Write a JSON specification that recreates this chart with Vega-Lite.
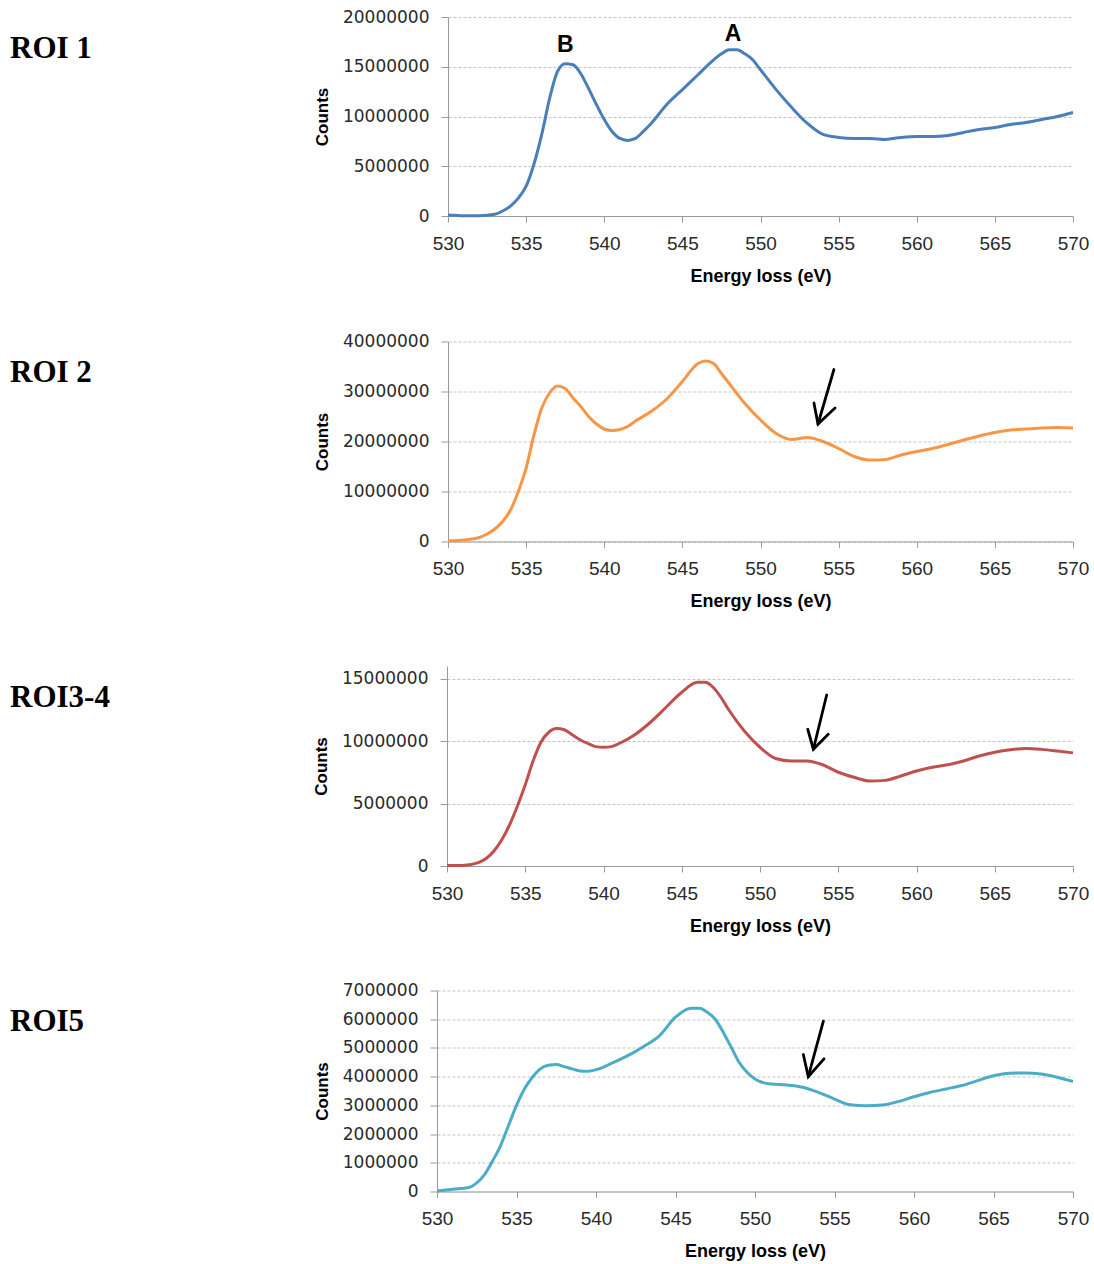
{
  "$schema": "https://vega.github.io/schema/vega-lite/v6.json",
  "background": "white",
  "padding": {"left": 10, "top": 8, "right": 4, "bottom": 4},
  "columns": 1,
  "bounds": "flush",
  "spacing": {"row": 324.5},
  "concat": [
    {
      "bounds": "flush",
      "spacing": 0,
      "hconcat": [
        {"width": 11, "height": 199, "data": {"values": []}, "mark": "point"},
        {
          "width": 625,
          "height": 199,
          "title": {"text": "ROI 1", "dx": -438, "dy": 60.5},
          "layer": [
            {
              "data": {"name": "roi1"},
              "mark": {"type": "line", "color": "#4a7ebb", "strokeWidth": 3, "interpolate": "monotone"},
              "encoding": {
                "x": {"field": "E", "type": "quantitative", "title": "Energy loss (eV)",
                      "scale": {"domain": [530, 570], "nice": false, "zero": false},
                      "axis": {"values": [530, 535, 540, 545, 550, 555, 560, 565, 570], "tickCount": 12, "format": "d", "labelOverlap": false}},
                "y": {"field": "C", "type": "quantitative", "title": "Counts",
                      "scale": {"domain": [0, 20000000], "nice": false},
                      "axis": {"values": [0, 5000000, 10000000, 15000000, 20000000], "tickCount": 10, "format": "d", "labelOverlap": false}}
              }
            },
            {
              "data": {"name": "peaks"},
              "mark": {"type": "text", "font": "Liberation Sans", "fontWeight": "bold", "fontSize": 23, "color": "#000000"},
              "encoding": {
                "x": {"field": "E", "type": "quantitative", "title": "Energy loss (eV)"},
                "y": {"field": "C", "type": "quantitative", "title": "Counts"},
                "text": {"field": "label"}
              }
            }
          ]
        }
      ]
    },
    {
      "bounds": "flush",
      "spacing": 0,
      "hconcat": [
        {"width": 11, "height": 200, "data": {"values": []}, "mark": "point"},
        {
          "width": 625,
          "height": 200,
          "title": {"text": "ROI 2", "dx": -438, "dy": 60.5},
          "layer": [
            {
              "data": {"name": "roi2"},
              "mark": {"type": "line", "color": "#f79646", "strokeWidth": 3, "interpolate": "monotone"},
              "encoding": {
                "x": {"field": "E", "type": "quantitative", "title": "Energy loss (eV)",
                      "scale": {"domain": [530, 570], "nice": false, "zero": false},
                      "axis": {"values": [530, 535, 540, 545, 550, 555, 560, 565, 570], "tickCount": 12, "format": "d", "labelOverlap": false}},
                "y": {"field": "C", "type": "quantitative", "title": "Counts",
                      "scale": {"domain": [0, 40000000], "nice": false},
                      "axis": {"values": [0, 10000000, 20000000, 30000000, 40000000], "tickCount": 10, "format": "d", "labelOverlap": false}}
              }
            },
            {
              "data": {"name": "arrow2"},
              "mark": {"type": "line", "color": "#000000", "strokeWidth": 2.8, "strokeCap": "round"},
              "encoding": {
                "x": {"field": "E", "type": "quantitative", "title": "Energy loss (eV)"},
                "y": {"field": "C", "type": "quantitative", "title": "Counts"},
                "detail": {"field": "seg"},
                "order": {"field": "o"}
              }
            }
          ]
        }
      ]
    },
    {
      "bounds": "flush",
      "spacing": 0,
      "hconcat": [
        {"width": 10, "height": 200, "data": {"values": []}, "mark": "point"},
        {
          "width": 626,
          "height": 200,
          "title": {"text": "ROI3-4", "dx": -437, "dy": 52},
          "layer": [
            {
              "data": {"name": "roi34"},
              "mark": {"type": "line", "color": "#c0504d", "strokeWidth": 3, "interpolate": "monotone"},
              "encoding": {
                "x": {"field": "E", "type": "quantitative", "title": "Energy loss (eV)",
                      "scale": {"domain": [530, 570], "nice": false, "zero": false},
                      "axis": {"values": [530, 535, 540, 545, 550, 555, 560, 565, 570], "tickCount": 12, "format": "d", "labelOverlap": false}},
                "y": {"field": "C", "type": "quantitative", "title": "Counts",
                      "scale": {"domain": [0, 16000000], "nice": false},
                      "axis": {"values": [0, 5000000, 10000000, 15000000], "tickCount": 10, "format": "d", "labelOverlap": false}}
              }
            },
            {
              "data": {"name": "arrow34"},
              "mark": {"type": "line", "color": "#000000", "strokeWidth": 2.8, "strokeCap": "round"},
              "encoding": {
                "x": {"field": "E", "type": "quantitative", "title": "Energy loss (eV)"},
                "y": {"field": "C", "type": "quantitative", "title": "Counts"},
                "detail": {"field": "seg"},
                "order": {"field": "o"}
              }
            }
          ]
        }
      ]
    },
    {
      "width": 636,
      "height": 201,
      "title": {"text": "ROI5", "dx": -427, "dy": 60.5},
      "layer": [
        {
          "data": {"name": "roi5"},
          "mark": {"type": "line", "color": "#4bacc6", "strokeWidth": 3, "interpolate": "monotone"},
          "encoding": {
            "x": {"field": "E", "type": "quantitative", "title": "Energy loss (eV)",
                  "scale": {"domain": [530, 570], "nice": false, "zero": false},
                  "axis": {"values": [530, 535, 540, 545, 550, 555, 560, 565, 570], "tickCount": 12, "format": "d", "labelOverlap": false}},
            "y": {"field": "C", "type": "quantitative", "title": "Counts",
                  "scale": {"domain": [0, 7000000], "nice": false},
                  "axis": {"values": [0, 1000000, 2000000, 3000000, 4000000, 5000000, 6000000, 7000000], "tickCount": 10, "format": "d", "labelOverlap": false}}
          }
        },
        {
          "data": {"name": "arrow5"},
          "mark": {"type": "line", "color": "#000000", "strokeWidth": 2.8, "strokeCap": "round"},
          "encoding": {
            "x": {"field": "E", "type": "quantitative", "title": "Energy loss (eV)"},
            "y": {"field": "C", "type": "quantitative", "title": "Counts"},
            "detail": {"field": "seg"},
            "order": {"field": "o"}
          }
        }
      ]
    }
  ],
  "datasets": {
    "roi1": [
      {"E": 530, "C": 100000}, {"E": 531, "C": 20000}, {"E": 532, "C": 30000}, {"E": 533, "C": 170000},
      {"E": 533.5, "C": 500000}, {"E": 534, "C": 1000000}, {"E": 534.5, "C": 1800000}, {"E": 535, "C": 3000000},
      {"E": 535.5, "C": 5200000}, {"E": 536, "C": 8200000}, {"E": 536.5, "C": 11800000}, {"E": 537, "C": 14500000},
      {"E": 537.5, "C": 15300000}, {"E": 538, "C": 15200000}, {"E": 538.5, "C": 14300000}, {"E": 539, "C": 12800000},
      {"E": 539.5, "C": 11200000}, {"E": 540, "C": 9700000}, {"E": 540.5, "C": 8500000}, {"E": 541, "C": 7800000},
      {"E": 541.5, "C": 7600000}, {"E": 542, "C": 7800000}, {"E": 542.5, "C": 8500000}, {"E": 543, "C": 9300000},
      {"E": 544, "C": 11200000}, {"E": 545, "C": 12700000}, {"E": 546, "C": 14200000}, {"E": 547, "C": 15700000},
      {"E": 547.5, "C": 16300000}, {"E": 548, "C": 16700000}, {"E": 548.5, "C": 16700000}, {"E": 549, "C": 16300000},
      {"E": 549.5, "C": 15700000}, {"E": 550, "C": 14700000}, {"E": 551, "C": 12700000}, {"E": 552, "C": 10900000},
      {"E": 553, "C": 9300000}, {"E": 554, "C": 8200000}, {"E": 555, "C": 7900000}, {"E": 556, "C": 7800000},
      {"E": 557, "C": 7800000}, {"E": 558, "C": 7700000}, {"E": 559, "C": 7900000}, {"E": 560, "C": 8000000},
      {"E": 561, "C": 8000000}, {"E": 562, "C": 8100000}, {"E": 563, "C": 8400000}, {"E": 564, "C": 8700000},
      {"E": 565, "C": 8900000}, {"E": 566, "C": 9200000}, {"E": 567, "C": 9400000}, {"E": 568, "C": 9700000},
      {"E": 569, "C": 10000000}, {"E": 570, "C": 10400000}
    ],
    "peaks": [
      {"label": "B", "E": 537.5, "C": 17200000},
      {"label": "A", "E": 548.25, "C": 18300000}
    ],
    "roi2": [
      {"E": 530, "C": 130000}, {"E": 531, "C": 300000}, {"E": 532, "C": 800000}, {"E": 532.5, "C": 1500000},
      {"E": 533, "C": 2500000}, {"E": 533.5, "C": 4000000}, {"E": 534, "C": 6300000}, {"E": 534.5, "C": 10000000},
      {"E": 535, "C": 14700000}, {"E": 535.5, "C": 21300000}, {"E": 536, "C": 26700000}, {"E": 536.5, "C": 29700000},
      {"E": 537, "C": 31100000}, {"E": 537.5, "C": 30600000}, {"E": 538, "C": 28700000}, {"E": 538.5, "C": 27000000},
      {"E": 539, "C": 25000000}, {"E": 539.5, "C": 23500000}, {"E": 540, "C": 22500000}, {"E": 540.5, "C": 22200000},
      {"E": 541, "C": 22400000}, {"E": 541.5, "C": 23000000}, {"E": 542, "C": 24100000}, {"E": 543, "C": 26000000},
      {"E": 544, "C": 28500000}, {"E": 545, "C": 32000000}, {"E": 546, "C": 35600000}, {"E": 546.5, "C": 36100000},
      {"E": 547, "C": 35600000}, {"E": 547.5, "C": 33600000}, {"E": 548, "C": 31600000}, {"E": 549, "C": 27600000},
      {"E": 550, "C": 24300000}, {"E": 551, "C": 21600000}, {"E": 552, "C": 20400000}, {"E": 553, "C": 20800000},
      {"E": 554, "C": 20000000}, {"E": 555, "C": 18600000}, {"E": 556, "C": 17000000}, {"E": 557, "C": 16300000},
      {"E": 558, "C": 16400000}, {"E": 559, "C": 17300000}, {"E": 560, "C": 18000000}, {"E": 561, "C": 18600000},
      {"E": 562, "C": 19400000}, {"E": 563, "C": 20300000}, {"E": 564, "C": 21100000}, {"E": 565, "C": 21800000},
      {"E": 566, "C": 22300000}, {"E": 567, "C": 22500000}, {"E": 568, "C": 22700000}, {"E": 569, "C": 22800000},
      {"E": 570, "C": 22700000}
    ],
    "arrow2": [
      {"seg": "shaft", "o": 1, "E": 554.7, "C": 34400000},
      {"seg": "shaft", "o": 2, "E": 553.68, "C": 23500000},
      {"seg": "head", "o": 1, "E": 553.42, "C": 27700000},
      {"seg": "head", "o": 2, "E": 553.68, "C": 23500000},
      {"seg": "head", "o": 3, "E": 554.77, "C": 26700000}
    ],
    "roi34": [
      {"E": 530, "C": 50000}, {"E": 531, "C": 50000}, {"E": 532, "C": 270000}, {"E": 532.5, "C": 600000},
      {"E": 533, "C": 1200000}, {"E": 533.5, "C": 2100000}, {"E": 534, "C": 3300000}, {"E": 534.5, "C": 4800000},
      {"E": 535, "C": 6500000}, {"E": 535.5, "C": 8400000}, {"E": 536, "C": 9900000}, {"E": 536.5, "C": 10700000},
      {"E": 537, "C": 11000000}, {"E": 537.5, "C": 10900000}, {"E": 538, "C": 10500000}, {"E": 538.5, "C": 10100000},
      {"E": 539, "C": 9800000}, {"E": 539.5, "C": 9550000}, {"E": 540, "C": 9500000}, {"E": 540.5, "C": 9550000},
      {"E": 541, "C": 9800000}, {"E": 542, "C": 10500000}, {"E": 543, "C": 11500000}, {"E": 544, "C": 12700000},
      {"E": 545, "C": 13900000}, {"E": 546, "C": 14700000}, {"E": 546.5, "C": 14700000}, {"E": 547, "C": 14300000},
      {"E": 547.5, "C": 13500000}, {"E": 548, "C": 12500000}, {"E": 549, "C": 10800000}, {"E": 550, "C": 9500000},
      {"E": 551, "C": 8600000}, {"E": 552, "C": 8400000}, {"E": 553, "C": 8400000}, {"E": 554, "C": 8100000},
      {"E": 555, "C": 7500000}, {"E": 556, "C": 7100000}, {"E": 557, "C": 6800000}, {"E": 558, "C": 6850000},
      {"E": 559, "C": 7200000}, {"E": 560, "C": 7600000}, {"E": 561, "C": 7900000}, {"E": 562, "C": 8100000},
      {"E": 563, "C": 8400000}, {"E": 564, "C": 8800000}, {"E": 565, "C": 9100000}, {"E": 566, "C": 9300000},
      {"E": 567, "C": 9400000}, {"E": 568, "C": 9330000}, {"E": 569, "C": 9200000}, {"E": 570, "C": 9050000}
    ],
    "arrow34": [
      {"seg": "shaft", "o": 1, "E": 554.26, "C": 13680000},
      {"seg": "shaft", "o": 2, "E": 553.41, "C": 9340000},
      {"seg": "head", "o": 1, "E": 553.05, "C": 10940000},
      {"seg": "head", "o": 2, "E": 553.41, "C": 9340000},
      {"seg": "head", "o": 3, "E": 554.36, "C": 10540000}
    ],
    "roi5": [
      {"E": 530, "C": 20000}, {"E": 531, "C": 80000}, {"E": 532, "C": 140000}, {"E": 532.5, "C": 300000},
      {"E": 533, "C": 600000}, {"E": 533.5, "C": 1070000}, {"E": 534, "C": 1600000}, {"E": 534.5, "C": 2300000},
      {"E": 535, "C": 3000000}, {"E": 535.5, "C": 3570000}, {"E": 536, "C": 3980000}, {"E": 536.5, "C": 4270000},
      {"E": 537, "C": 4400000}, {"E": 537.5, "C": 4420000}, {"E": 538, "C": 4350000}, {"E": 538.5, "C": 4270000},
      {"E": 539, "C": 4200000}, {"E": 539.5, "C": 4190000}, {"E": 540, "C": 4240000}, {"E": 541, "C": 4470000},
      {"E": 542, "C": 4730000}, {"E": 543, "C": 5050000}, {"E": 544, "C": 5430000}, {"E": 545, "C": 6070000},
      {"E": 546, "C": 6380000}, {"E": 546.5, "C": 6380000}, {"E": 547, "C": 6240000}, {"E": 547.5, "C": 6000000},
      {"E": 548, "C": 5550000}, {"E": 548.5, "C": 5030000}, {"E": 549, "C": 4500000}, {"E": 549.5, "C": 4150000},
      {"E": 550, "C": 3920000}, {"E": 551, "C": 3740000}, {"E": 552, "C": 3710000}, {"E": 553, "C": 3630000},
      {"E": 554, "C": 3450000}, {"E": 555, "C": 3220000}, {"E": 556, "C": 3020000}, {"E": 557, "C": 2990000},
      {"E": 558, "C": 3010000}, {"E": 559, "C": 3130000}, {"E": 560, "C": 3300000}, {"E": 561, "C": 3450000},
      {"E": 562, "C": 3570000}, {"E": 563, "C": 3690000}, {"E": 564, "C": 3860000}, {"E": 565, "C": 4030000},
      {"E": 566, "C": 4120000}, {"E": 567, "C": 4130000}, {"E": 568, "C": 4090000}, {"E": 569, "C": 3980000},
      {"E": 570, "C": 3830000}
    ],
    "arrow5": [
      {"seg": "shaft", "o": 1, "E": 554.3, "C": 5930000},
      {"seg": "shaft", "o": 2, "E": 553.35, "C": 4000000},
      {"seg": "head", "o": 1, "E": 553.04, "C": 4770000},
      {"seg": "head", "o": 2, "E": 553.35, "C": 4000000},
      {"seg": "head", "o": 3, "E": 554.34, "C": 4620000}
    ]
  },
  "config": {
    "view": {"stroke": null},
    "axis": {
      "domainColor": "#9a9a9a",
      "tickColor": "#9a9a9a",
      "labelColor": "#2a2a2a",
      "titleColor": "#000000",
      "titleFont": "Liberation Sans",
      "titleFontWeight": "bold",
      "labelOverlap": false,
      "labelFlush": false,
      "labelBound": false
    },
    "axisX": {
      "grid": false,
      "labelFont": "Liberation Sans",
      "labelFontSize": 19,
      "tickSize": 6,
      "labelPadding": 12,
      "titleFontSize": 18,
      "titlePadding": 14
    },
    "axisY": {
      "grid": true,
      "gridColor": "#c4c4c4",
      "gridDash": [3, 2],
      "labelFont": "DejaVu Sans",
      "labelFontSize": 17,
      "tickSize": 7,
      "labelPadding": 12,
      "titleFontSize": 17,
      "titlePadding": 11
    },
    "title": {
      "orient": "top",
      "anchor": "start",
      "frame": "group",
      "align": "left",
      "baseline": "alphabetic",
      "offset": 0,
      "font": "Liberation Serif",
      "fontSize": 31,
      "fontWeight": "bold",
      "color": "#000000"
    }
  }
}
